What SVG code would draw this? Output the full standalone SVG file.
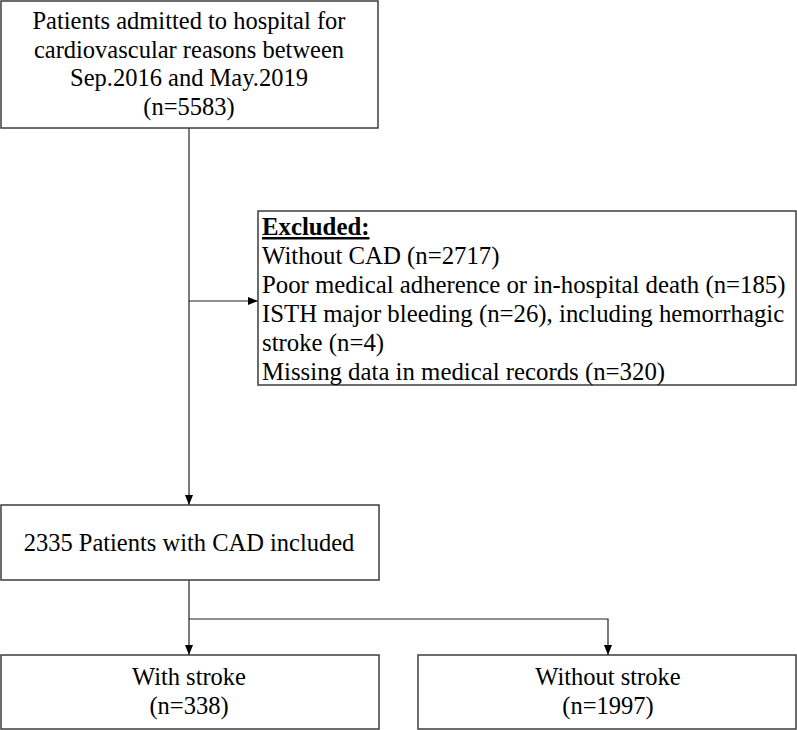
<svg xmlns="http://www.w3.org/2000/svg" width="797" height="730" viewBox="0 0 797 730">
<style>
.box{fill:#fff;stroke:#3c3c3c;stroke-width:1.5}
.t{font-family:"Liberation Serif","Times New Roman",serif;font-size:24.5px;fill:#000}
.x{font-size:24.8px}
.c{text-anchor:middle}
.ln{fill:none;stroke:#222;stroke-width:1.2}
</style>
<defs>
<marker id="ah" markerWidth="10" markerHeight="8" refX="10" refY="4" orient="auto" markerUnits="userSpaceOnUse">
<path d="M0,0 L10,4 L0,8 Z" fill="#000"/>
</marker>
</defs>
<rect width="797" height="730" fill="#fff"/>
<g id="connectors">
<path class="ln" d="M189,128 V505" marker-end="url(#ah)"/>
<path class="ln" d="M189,301 H258" marker-end="url(#ah)"/>
<path class="ln" d="M189,580 V655" marker-end="url(#ah)"/>
<path class="ln" d="M189,619 H608 V655" marker-end="url(#ah)"/>
</g>
<g id="n_admitted">
<rect class="box" x="1" y="1" width="377" height="127"/>
<text class="t c" x="189" y="29">Patients admitted to hospital for</text>
<text class="t c" x="189" y="57.5">cardiovascular reasons between</text>
<text class="t c" x="189" y="86">Sep.2016 and May.2019</text>
<text class="t c" x="189" y="115">(n=5583)</text>
</g>
<g id="n_excluded">
<rect class="box" x="258" y="211" width="538" height="174"/>
<text class="t x" x="262" y="235" font-weight="bold" text-decoration="underline">Excluded:</text>
<text class="t x" x="262" y="264">Without CAD (n=2717)</text>
<text class="t x" x="262" y="293">Poor medical adherence or in-hospital death (n=185)</text>
<text class="t x" x="262" y="322">ISTH major bleeding (n=26), including hemorrhagic</text>
<text class="t x" x="262" y="351">stroke (n=4)</text>
<text class="t x" x="262" y="380">Missing data in medical records (n=320)</text>
</g>
<g id="n_included">
<rect class="box" x="1" y="505" width="378" height="75"/>
<text class="t c" x="189" y="551" font-size="25.5">2335 Patients with CAD included</text>
</g>
<g id="n_stroke">
<rect class="box" x="1" y="655" width="378" height="74"/>
<text class="t c" x="189" y="685">With stroke</text>
<text class="t c" x="189" y="714">(n=338)</text>
</g>
<g id="n_nostroke">
<rect class="box" x="418" y="655" width="378" height="74"/>
<text class="t c" x="608" y="685">Without stroke</text>
<text class="t c" x="608" y="714">(n=1997)</text>
</g>
</svg>
